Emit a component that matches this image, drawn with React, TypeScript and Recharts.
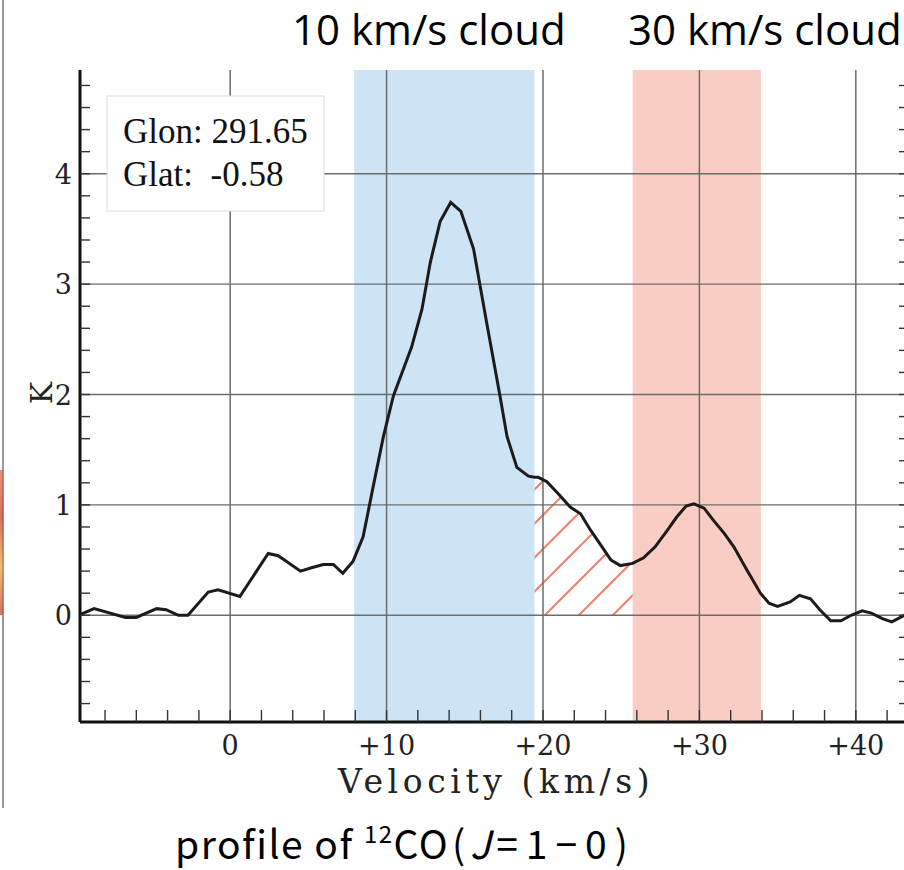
import React from 'react';
import { ComposedChart, Line, Area, XAxis, YAxis, ReferenceArea, ReferenceLine } from 'recharts';

// CO profile (km/s, K)
const velocity = [
  -9.7, -8.7, -6.7, -6.0, -4.7, -4.1, -3.3, -2.7, -1.4, -0.77, 0.62, 2.43, 3.07, 4.5, 5.2, 5.95, 6.6, 7.2,
  7.86, 8.5, 9.15, 9.8, 10.44, 11.6, 12.26, 12.8, 13.43, 14.1, 14.75, 15.56, 16.4, 17.26, 17.7, 18.33, 19.07,
  19.46, 19.7, 20.25, 21.05, 21.74, 22.4, 23.0, 24.35, 24.95, 25.73, 26.43, 27.17, 27.9, 28.55, 29.15, 29.65,
  30.3, 30.9, 31.6, 32.2, 33.0, 33.9, 34.45, 35.0, 35.8, 36.4, 37.1, 37.7, 38.4, 39.05, 39.7, 40.4, 41.0,
  41.7, 42.3, 43.1, 43.6,
];
const temperature = [
  0.0, 0.06, -0.02, -0.02, 0.06, 0.05, 0.0, 0.0, 0.21, 0.23, 0.17, 0.56, 0.54, 0.4, 0.43, 0.46, 0.46, 0.38,
  0.49, 0.71, 1.17, 1.62, 1.99, 2.43, 2.77, 3.2, 3.57, 3.74, 3.66, 3.32, 2.65, 1.98, 1.62, 1.34, 1.26,
  1.25, 1.25, 1.21, 1.09, 0.98, 0.92, 0.78, 0.5, 0.45, 0.47, 0.52, 0.62, 0.76, 0.89, 0.99, 1.01,
  0.97, 0.86, 0.74, 0.62, 0.42, 0.2, 0.11, 0.08, 0.12, 0.18, 0.15, 0.05, -0.05, -0.05, 0.0, 0.04, 0.02,
  -0.03, -0.06, 0.0, 0.03,
];

const cloud10 = [7.93, 19.46];
const cloud30 = [25.73, 33.93];
const hatchRange = [19.46, 25.73];

const xDomain = [-9.6, 43.4];
const yDomain = [-0.967, 4.94];

const xMinorTicks = [-8, -6, -4, -2, 0, 2, 4, 6, 8, 10, 12, 14, 16, 18, 20, 22, 24, 26, 28, 30, 32, 34, 36, 38, 40, 42];
const xLabelTicks = [0, 10, 20, 30, 40];
const xTickLabels = ['0', '+10', '+20', '+30', '+40'];
const yMinorTicks = [
  -0.8, -0.6, -0.4, -0.2, 0, 0.2, 0.4, 0.6, 0.8, 1, 1.2, 1.4, 1.6, 1.8, 2, 2.2, 2.4, 2.6, 2.8, 3, 3.2, 3.4,
  3.6, 3.8, 4, 4.2, 4.4, 4.6, 4.8,
];
const yLabelTicks = [0, 1, 2, 3, 4];
const yTickLabels = ['0', '1', '2', '3', '4'];

const rows = velocity.map((v, i) => ({
  v,
  T: temperature[i],
  hatch: v >= hatchRange[0] && v <= hatchRange[1] ? temperature[i] : null,
}));

const serif = '"DejaVu Serif", serif';
const tickColor = '#333';

function BottomTick(props: any) {
  const { x, y, payload } = props;
  const i = xLabelTicks.indexOf(payload.value);
  return (
    <g>
      <line x1={x} x2={x} y1={y} y2={y - 12} stroke={tickColor} strokeWidth={1.4} />
      {i >= 0 && (
        <text x={x} y={y + 33} textAnchor="middle" fontFamily={serif} fontSize={27} fill="#222">
          {xTickLabels[i]}
        </text>
      )}
    </g>
  );
}

function TopTick(props: any) {
  const { x, y } = props;
  return <line x1={x} x2={x} y1={y} y2={y + 11} stroke={tickColor} strokeWidth={1.4} />;
}

function LeftTick(props: any) {
  const { x, y, payload } = props;
  const i = yLabelTicks.findIndex((t) => Math.abs(t - payload.value) < 1e-6);
  return (
    <g>
      <line x1={x} x2={x + 10} y1={y} y2={y} stroke={tickColor} strokeWidth={1.4} />
      {i >= 0 && (
        <text x={x - 8} y={y + 10} textAnchor="end" fontFamily={serif} fontSize={27} fill="#222">
          {yTickLabels[i]}
        </text>
      )}
    </g>
  );
}

function RightTick(props: any) {
  const { x, y } = props;
  return <line x1={x} x2={x - 10} y1={y} y2={y} stroke={tickColor} strokeWidth={1.4} />;
}

const gridColor = '#6c6c6c';

export default function App() {
  return (
    <div style={{ position: 'fixed', left: 0, top: 0, width: 904, height: 870, overflow: 'hidden', background: '#fff' }}>
      {/* edge of the neighbouring figure */}
      <div style={{ position: 'absolute', left: 2, top: 0, width: 2, height: 808, background: '#9a9a9a' }} />
      <div style={{ position: 'absolute', left: 0, top: 470, width: 3, height: 145, background: 'linear-gradient(#d9603a, #c0392b, #e0a040, #c0392b)', opacity: 0.7 }} />

      <div style={{ position: 'absolute', left: 0, top: 0 }}>
        <ComposedChart width={960} height={800} data={rows} margin={{ top: 70, right: 0, bottom: 0, left: 0 }}>
          <defs>
            <pattern id="hatch" patternUnits="userSpaceOnUse" width={34} height={34}>
              <path d="M-2,6 L6,-2 M2,36 L36,2" stroke="#f07e6a" strokeWidth={2} />
            </pattern>
          </defs>
          <XAxis
            xAxisId="b"
            dataKey="v"
            type="number"
            domain={xDomain}
            allowDataOverflow
            ticks={xMinorTicks}
            interval={0}
            height={78}
            tickSize={0}
            tickMargin={0}
            tickLine={false}
            tick={<BottomTick />}
            axisLine={{ stroke: '#111', strokeWidth: 3 }}
          />
          <XAxis
            xAxisId="t"
            orientation="top"
            dataKey="v"
            type="number"
            domain={xDomain}
            allowDataOverflow
            ticks={xMinorTicks}
            interval={0}
            height={0}
            tickSize={0}
            tickMargin={0}
            tickLine={false}
            tick={<TopTick />}
            axisLine={{ stroke: '#111', strokeWidth: 3 }}
          />
          <YAxis
            yAxisId="l"
            type="number"
            domain={yDomain}
            allowDataOverflow
            ticks={yMinorTicks}
            interval={0}
            width={80}
            tickSize={0}
            tickMargin={0}
            tickLine={false}
            tick={<LeftTick />}
            axisLine={{ stroke: '#111', strokeWidth: 3 }}
          />
          <YAxis
            yAxisId="r"
            orientation="right"
            type="number"
            domain={yDomain}
            allowDataOverflow
            ticks={yMinorTicks}
            interval={0}
            width={51}
            tickSize={0}
            tickMargin={0}
            tickLine={false}
            tick={<RightTick />}
            axisLine={{ stroke: '#111', strokeWidth: 3 }}
          />

          <ReferenceArea xAxisId="b" yAxisId="l" x1={cloud10[0]} x2={cloud10[1]} fill="#cce4f5" fillOpacity={1} stroke="none" />
          <ReferenceArea xAxisId="b" yAxisId="l" x1={cloud30[0]} x2={cloud30[1]} fill="#f9cdc3" fillOpacity={1} stroke="none" />

          <Area
            xAxisId="b"
            yAxisId="l"
            dataKey="hatch"
            type="linear"
            baseValue={0}
            stroke="none"
            fill="url(#hatch)"
            fillOpacity={1}
            dot={false}
            activeDot={false}
            isAnimationActive={false}
          />

          {xLabelTicks.map((v) => (
            <ReferenceLine key={'gx' + v} xAxisId="b" yAxisId="l" x={v} stroke={gridColor} strokeWidth={1.5} />
          ))}
          {yLabelTicks.map((v) => (
            <ReferenceLine key={'gy' + v} xAxisId="b" yAxisId="l" y={v} stroke={gridColor} strokeWidth={1.3} />
          ))}

          <Line
            xAxisId="b"
            yAxisId="l"
            dataKey="T"
            type="linear"
            stroke="#1f1a1a"
            strokeWidth={3}
            dot={false}
            activeDot={false}
            isAnimationActive={false}
          />
        </ComposedChart>
      </div>

      <svg width={904} height={870} style={{ position: 'absolute', left: 0, top: 0, pointerEvents: 'none' }}>
        <text x={292} y={45} fontFamily='"Open Sans", sans-serif' fontSize={42} fill="#000">10 km/s cloud</text>
        <text x={628} y={45} fontFamily='"Open Sans", sans-serif' fontSize={42} fill="#000">30 km/s cloud</text>

        <rect x={107} y={96} width={217} height={115} fill="#fff" stroke="#dcdcdc" strokeWidth={1} />
        <text x={123} y={143} fontFamily='"Liberation Serif", serif' fontSize={35} fill="#111" style={{ whiteSpace: 'pre' }}>Glon: 291.65</text>
        <text x={123} y={186} fontFamily='"Liberation Serif", serif' fontSize={35} fill="#111" style={{ whiteSpace: 'pre' }}>Glat:  -0.58</text>

        <text x={338} y={793} fontFamily={serif} fontSize={33} letterSpacing={4.6} fill="#222">Velocity (km/s)</text>
        <text transform="translate(52,393) rotate(-90)" textAnchor="middle" fontFamily={serif} fontSize={30} fill="#222">K</text>

        <text x={175} y={859} fontFamily='"Noto Sans CJK JP", "Noto Sans", sans-serif' fontSize={39} letterSpacing={1.5} fill="#000" style={{ whiteSpace: 'pre' }}>
          profile of <tspan fontSize={24} dy={-16}>12</tspan>
          <tspan dy={16}>CO</tspan>
          <tspan dx={3}>(</tspan>
          <tspan dx={3} fontStyle="italic">J</tspan>
          <tspan dx={4} letterSpacing={8}>=1−0)</tspan>
        </text>
      </svg>
    </div>
  );
}
